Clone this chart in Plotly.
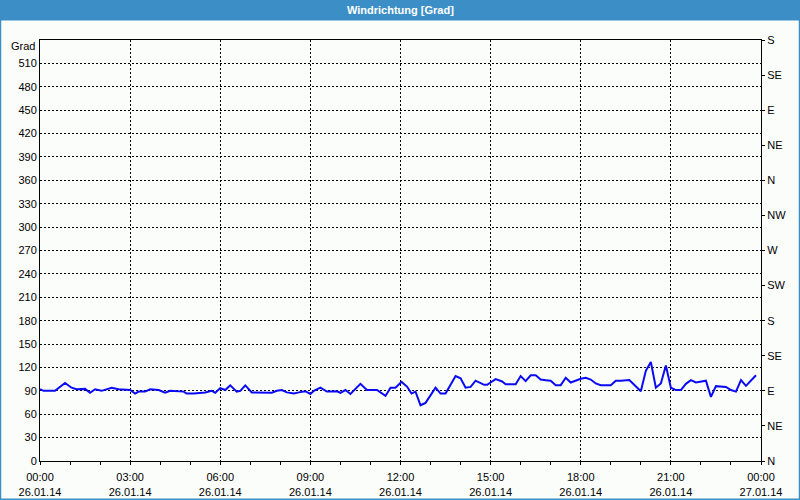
import plotly.graph_objects as go

# Time of each sample in minutes after 26.01.14 00:00
minutes = [0, 7, 30, 50, 63, 73, 90, 100, 110, 123, 143, 157, 180, 190, 197, 210, 220, 237,
           250, 260, 287, 293, 307, 330, 343, 350, 360, 370, 380, 393, 400, 410, 423, 437, 463,
           473, 483, 493, 507, 517, 530, 540, 547, 560, 573, 583, 593, 600, 610, 620, 640, 653,
           673, 690, 700, 710, 722, 733, 742, 750, 760, 770, 790, 800, 810, 830, 840, 850, 860,
           870, 880, 887, 893, 910, 923, 930, 950, 960, 970, 980, 990, 1000, 1010, 1020, 1030,
           1040, 1050, 1060, 1080, 1090, 1100, 1110, 1120, 1140, 1150, 1160, 1177, 1200, 1210,
           1220, 1230, 1240, 1250, 1260, 1270, 1280, 1290, 1300, 1310, 1320, 1330, 1340, 1350,
           1370, 1380, 1390, 1400, 1410, 1430]
# Wind direction in degrees
values = [92, 90, 90, 100, 94, 92, 92.5, 87.5, 92, 90, 94, 92, 91, 86.5, 89, 89, 92, 91,
          87.5, 90, 89, 86.5, 86.5, 88, 90, 87.5, 93.5, 91, 97, 89, 90, 97, 88, 88, 87.5,
          90, 91, 88, 86.5, 88, 89.5, 86, 90, 94, 89, 89, 89.5, 87.5, 91, 86, 99, 91,
          91, 83.5, 94, 94, 101.5, 95.5, 86.5, 89, 71.5, 74.5, 94, 86.5, 86.5, 109, 106, 94, 95,
          103, 99.5, 97.7, 97.7, 105, 102, 98.5, 98.5, 109, 102.5, 110, 110, 104.5, 103.7, 103, 97.3,
          97.3, 106.7, 100.7, 105.4, 106.7, 104.5, 99.5, 97.3, 97.3, 103, 103, 104, 89.5, 115.7,
          127, 94, 99.5, 122.5, 94, 91, 91, 99, 103.7, 100.7, 102, 103, 82.3, 96,
          95, 91, 89, 103.7, 96.4, 110]

x_tick_hours = [0, 3, 6, 9, 12, 15, 18, 21, 24]
x_tick_labels = ["00:00<br>26.01.14", "03:00<br>26.01.14", "06:00<br>26.01.14",
                 "09:00<br>26.01.14", "12:00<br>26.01.14", "15:00<br>26.01.14",
                 "18:00<br>26.01.14", "21:00<br>26.01.14", "00:00<br>27.01.14"]
left_ticks = list(range(0, 511, 30))
right_ticks = list(range(0, 541, 45))
right_labels = ["N", "NE", "E", "SE", "S", "SW", "W", "NW", "N", "NE", "E", "SE", "S"]

title_text = "Windrichtung [Grad]"
unit_text = "Grad"

hours = [m / 60 for m in minutes]

FONT = "Liberation Sans, Arial, sans-serif"
BG = "#FBFDFB"
BAR = "#3C8FC6"

fig = go.Figure()
fig.add_trace(go.Scatter(x=hours, y=values, mode="lines",
                         line=dict(color="#0A0AF5", width=2), showlegend=False,
                         hoverinfo="skip"))
fig.add_trace(go.Scatter(x=[0], y=[0], yaxis="y2", mode="markers",
                         marker=dict(opacity=0), showlegend=False, hoverinfo="skip"))

L, R, T, B = 40, 39, 40, 39
W, H = 800, 500
pw, ph = W - L - R, H - T - B


def px(xp):
    return (xp - L) / pw


def py(yp):
    return (H - B - yp) / ph


axis_common = dict(showline=True, linecolor="black", linewidth=1,
                   tickfont=dict(family=FONT, size=11, color="black"),
                   zeroline=False, automargin=False)

fig.update_layout(
    width=W, height=H,
    margin=dict(l=L, r=R, t=T, b=B, autoexpand=False),
    paper_bgcolor=BG, plot_bgcolor=BG,
    showlegend=False,
    xaxis=dict(range=[0, 24], tickmode="array", tickvals=x_tick_hours,
               ticktext=x_tick_labels, showgrid=True, gridcolor="black",
               gridwidth=1, griddash="2px,2px", mirror=True,
               ticks="outside", ticklen=3, tickcolor="black", ticklabelstandoff=3,
               minor=dict(tickmode="linear", tick0=0, dtick=1, ticks="outside",
                          ticklen=3, tickcolor="black", showgrid=False),
               **axis_common),
    yaxis=dict(range=[0, 540], tickmode="array", tickvals=left_ticks,
               showgrid=True, gridcolor="black", gridwidth=1, griddash="2px,2px",
               ticks="", mirror=False, **axis_common),
    yaxis2=dict(range=[0, 540], overlaying="y", side="right", tickmode="array",
                tickvals=right_ticks, ticktext=right_labels, showgrid=False,
                ticks="outside", ticklen=3, tickcolor="black", **axis_common),
    shapes=[
        dict(type="rect", xref="paper", yref="paper", x0=px(0), x1=px(W),
             y0=py(20.5), y1=py(0), fillcolor=BAR, line=dict(width=0), layer="above"),
        dict(type="line", xref="paper", yref="paper", x0=px(0.5), x1=px(0.5),
             y0=py(H), y1=py(0), line=dict(color=BAR, width=1.5)),
        dict(type="line", xref="paper", yref="paper", x0=px(W - 0.5), x1=px(W - 0.5),
             y0=py(H), y1=py(0), line=dict(color=BAR, width=1.5)),
        dict(type="line", xref="paper", yref="paper", x0=px(0), x1=px(W),
             y0=py(H - 0.75), y1=py(H - 0.75), line=dict(color=BAR, width=1.5)),
    ],
    annotations=[
        dict(text="<b>" + title_text + "</b>", xref="paper", yref="paper",
             x=px(W / 2), y=py(10), xanchor="center", yanchor="middle",
             showarrow=False, font=dict(family=FONT, size=11, color="white")),
        dict(text=unit_text, xref="paper", yref="paper", x=px(37), y=py(46),
             xanchor="right", yanchor="middle", showarrow=False,
             font=dict(family=FONT, size=11, color="black")),
    ],
)

fig.write_html("out.html")
